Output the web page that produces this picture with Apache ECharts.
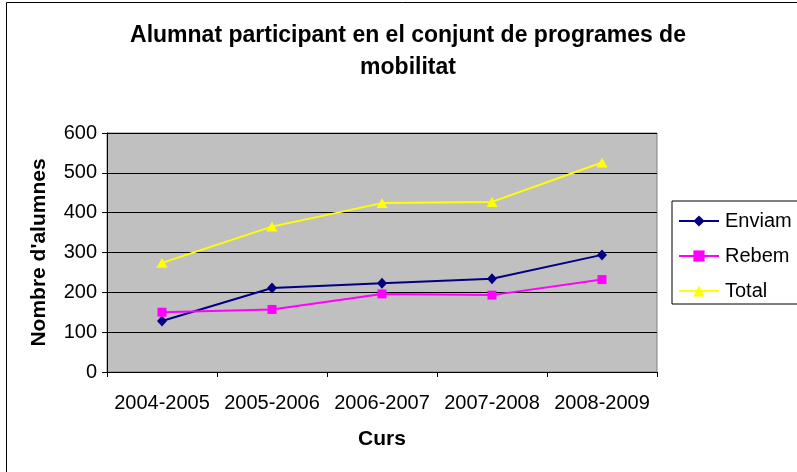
<!DOCTYPE html>
<html>
<head>
<meta charset="utf-8">
<script src="https://cdn.jsdelivr.net/npm/echarts@6/dist/echarts.min.js"></script>
<style>
  html, body { margin: 0; padding: 0; background: #fff; }
  #chart { width: 797px; height: 472px; }
</style>
</head>
<body>
<div id="chart"></div>
<script>
const cursos = ['2004-2005', '2005-2006', '2006-2007', '2007-2008', '2008-2009']
const enviam = [128, 211, 223, 234, 294]
const rebem = [150, 157, 196, 193, 232]
const total = [274, 365, 424, 427, 526]
const yTicks = [0, 600, 100] // min, max, interval

const font = '"Liberation Sans", Arial, sans-serif'
const chart = echarts.init(document.getElementById('chart'))

chart.setOption({
  animation: false,
  backgroundColor: '#fff',
  textStyle: { fontFamily: font },
  graphic: [
    {
      // marc exterior del gràfic
      type: 'rect',
      shape: { x: 6.5, y: 2.5, width: 900, height: 600 },
      style: { fill: 'none', stroke: '#000', lineWidth: 1 },
      z: -1
    }
  ],
  title: {
    text: 'Alumnat participant en el conjunt de programes de\nmobilitat',
    left: 408,
    top: 20,
    textAlign: 'center',
    padding: 0,
    textStyle: {
      fontFamily: font,
      fontSize: 23,
      fontWeight: 'bold',
      color: '#000',
      lineHeight: 32
    }
  },
  grid: {
    left: 107,
    right: 140,
    top: 133,
    bottom: 100,
    show: true,
    backgroundColor: '#c0c0c0',
    borderColor: '#808080',
    borderWidth: 1
  },
  legend: {
    orient: 'vertical',
    left: 672,
    top: 201,
    padding: [10, 20, 3, 6],
    itemWidth: 40,
    itemHeight: 14,
    itemGap: 15,
    borderColor: '#000',
    borderWidth: 1,
    backgroundColor: '#fff',
    textStyle: { fontFamily: font, fontSize: 20, color: '#000', padding: [0, 0, 0, 1] },
    data: ['Enviam', 'Rebem', 'Total']
  },
  xAxis: {
    type: 'category',
    data: cursos,
    boundaryGap: true,
    name: 'Curs',
    nameLocation: 'middle',
    nameGap: 57,
    nameTextStyle: { fontFamily: font, fontSize: 21, fontWeight: 'bold', color: '#000' },
    axisLine: { lineStyle: { color: '#000', width: 1 } },
    axisTick: { show: true, length: 5, lineStyle: { color: '#000' } },
    axisLabel: { fontFamily: font, fontSize: 20, color: '#000', margin: 21, interval: 0 },
    splitLine: { show: false }
  },
  yAxis: {
    type: 'value',
    min: yTicks[0],
    max: yTicks[1],
    interval: yTicks[2],
    name: "Nombre d'alumnes",
    nameLocation: 'middle',
    nameGap: 57,
    nameTextStyle: { fontFamily: font, fontSize: 21, fontWeight: 'bold', color: '#000' },
    axisLine: { show: true, lineStyle: { color: '#000', width: 1 } },
    axisTick: { show: true, length: 5, lineStyle: { color: '#000' } },
    axisLabel: { fontFamily: font, fontSize: 20, color: '#000', margin: 10 },
    splitLine: { show: true, lineStyle: { color: '#000', width: 1 } }
  },
  series: [
    {
      name: 'Enviam',
      type: 'line',
      data: enviam,
      symbol: 'diamond',
      symbolSize: [10, 11],
      lineStyle: { color: '#000080', width: 2 },
      itemStyle: { color: '#000080' }
    },
    {
      name: 'Rebem',
      type: 'line',
      data: rebem,
      symbol: 'rect',
      symbolSize: 9,
      lineStyle: { color: '#ff00ff', width: 2 },
      itemStyle: { color: '#ff00ff' }
    },
    {
      name: 'Total',
      type: 'line',
      data: total,
      symbol: 'triangle',
      symbolSize: [11, 10],
      lineStyle: { color: '#ffff00', width: 2 },
      itemStyle: { color: '#ffff00' }
    }
  ]
})
</script>
</body>
</html>
